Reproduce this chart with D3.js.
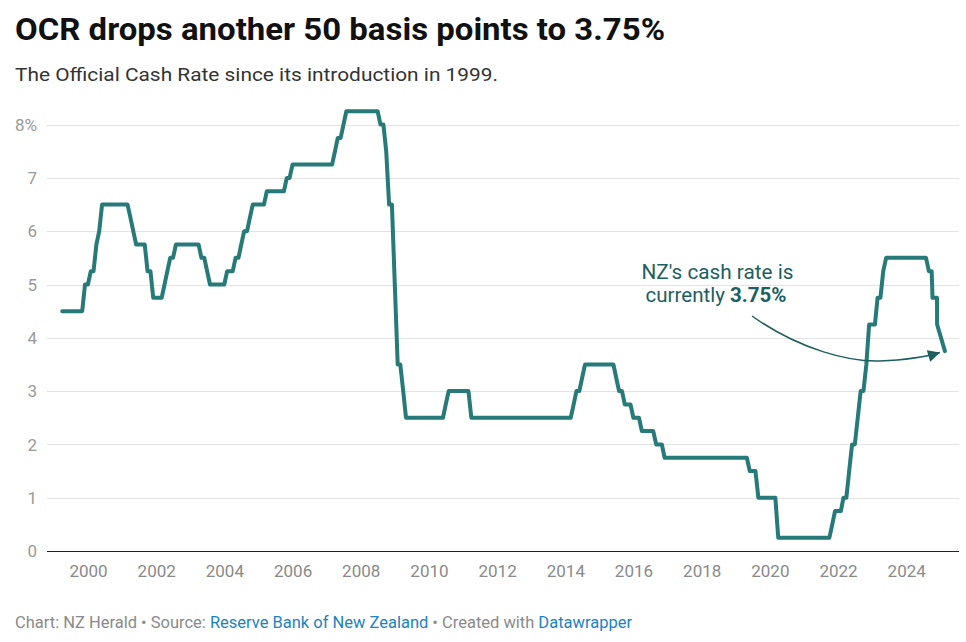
<!DOCTYPE html>
<html>
<head>
<meta charset="utf-8">
<script src="https://cdn.jsdelivr.net/npm/d3@7"></script>
<style>
  html, body { margin: 0; padding: 0; background: #fff; }
  svg { display: block; font-family: Roboto, "Noto Sans", sans-serif; }
</style>
</head>
<body>
<svg id="chart" width="966" height="642"></svg>
<script>
// ---- Data (month-end values, "YYYY-MM"; exact dates "YYYY-MM-DD") ----
const ocrDates = [
  "1999-03","1999-10","1999-11","1999-12","2000-01","2000-02","2000-03","2000-04",
  "2000-05","2001-02","2001-03","2001-04","2001-05","2001-08","2001-09","2001-10",
  "2001-11","2002-02","2002-03","2002-04","2002-05","2002-06","2002-07","2003-03",
  "2003-04","2003-05","2003-06","2003-07","2003-12","2004-01","2004-03","2004-04",
  "2004-05","2004-06","2004-07","2004-08","2004-09","2004-10","2005-02","2005-03",
  "2005-09","2005-10","2005-11","2005-12","2007-02","2007-03","2007-04","2007-05",
  "2007-06","2007-07","2008-06","2008-07","2008-08","2008-09","2008-10","2008-11",
  "2008-12","2009-01","2009-02","2009-03","2009-04","2010-05","2010-06","2010-07",
  "2011-02","2011-03","2014-02","2014-03","2014-04","2014-05","2014-06","2014-07",
  "2015-05","2015-06","2015-07","2015-08","2015-09","2015-11","2015-12","2016-02",
  "2016-03","2016-07","2016-08","2016-10","2016-11","2019-04","2019-05","2019-07",
  "2019-08","2020-02","2020-03","2021-09","2021-10","2021-11","2022-01","2022-02",
  "2022-03","2022-04","2022-05","2022-06","2022-07","2022-08","2022-09","2022-10",
  "2022-11","2023-01","2023-02","2023-03","2023-04","2023-05","2024-07","2024-08",
  "2024-09","2024-10-09","2024-11-26","2024-11-27","2025-02-19"
];
const ocrRates = [
  4.5,4.5,5.0,5.0,5.25,5.25,5.75,6.0,
  6.5,6.5,6.25,6.0,5.75,5.75,5.25,5.25,
  4.75,4.75,5.0,5.25,5.5,5.5,5.75,5.75,
  5.5,5.5,5.25,5.0,5.0,5.25,5.25,5.5,
  5.5,5.75,6.0,6.0,6.25,6.5,6.5,6.75,
  6.75,7.0,7.0,7.25,7.25,7.5,7.75,7.75,
  8.0,8.25,8.25,8.0,8.0,7.5,6.5,6.5,
  5.0,3.5,3.5,3.0,2.5,2.5,2.75,3.0,
  3.0,2.5,2.5,2.75,3.0,3.0,3.25,3.5,
  3.5,3.25,3.0,3.0,2.75,2.75,2.5,2.5,
  2.25,2.25,2.0,2.0,1.75,1.75,1.5,1.5,
  1.0,1.0,0.25,0.25,0.5,0.75,0.75,1.0,
  1.0,1.5,2.0,2.0,2.5,3.0,3.0,3.5,
  4.25,4.25,4.75,4.75,5.25,5.5,5.5,5.25,
  5.25,4.75,4.75,4.25,3.75
];
const yTicks = [0,1,2,3,4,5,6,7,8];
const xTickYears = [2000,2002,2004,2006,2008,2010,2012,2014,2016,2018,2020,2022,2024];

const titleText = "OCR drops another 50 basis points to 3.75%";
const subtitleText = "The Official Cash Rate since its introduction in 1999.";
const noteLine1 = "NZ's cash rate is";
const noteLine2a = "currently ";
const noteLine2b = "3.75%";

// ---- Helpers ----
function parseDate(s) {
  const p = s.split("-").map(Number);
  if (p.length === 2) return new Date(p[0], p[1], 0); // last day of month
  return new Date(p[0], p[1] - 1, p[2]);
}
const data = ocrDates.map((d, i) => ({ date: parseDate(d), value: ocrRates[i] }));

const svg = d3.select("#chart");
const plotLeft = 47, plotRight = 959;

const x = d3.scaleTime()
  .domain([new Date(2000, 0, 1), new Date(2024, 0, 1)])
  .range([88, 906.2]);
const y = d3.scaleLinear().domain([0, 8]).range([551, 124.6]);

// Title / subtitle
svg.append("text")
  .attr("x", 15).attr("y", 40)
  .attr("font-size", 31).attr("font-weight", 700).attr("fill", "#111")
  .attr("textLength", 650).attr("lengthAdjust", "spacingAndGlyphs")
  .text(titleText);
svg.append("text")
  .attr("x", 15).attr("y", 81)
  .attr("font-size", 19).attr("fill", "#333")
  .attr("textLength", 483).attr("lengthAdjust", "spacingAndGlyphs")
  .text(subtitleText);

// Gridlines
const grid = svg.append("g");
grid.selectAll("line").data(yTicks.filter(d => d > 0)).join("line")
  .attr("x1", plotLeft).attr("x2", plotRight)
  .attr("y1", d => Math.round(y(d)) + 0.5).attr("y2", d => Math.round(y(d)) + 0.5)
  .attr("stroke", "#e3e3e3").attr("stroke-width", 1);

// Y axis labels
const yAxis = d3.axisLeft(y).tickValues(yTicks).tickSize(0)
  .tickFormat(d => d === 8 ? "8%" : d3.format("d")(d));
svg.append("g").attr("transform", "translate(37,0)").call(yAxis)
  .call(g => g.select(".domain").remove())
  .call(g => g.selectAll("text").attr("x", 0).attr("dy", "0.34em")
    .attr("font-size", 17).attr("font-family", "Roboto, sans-serif").attr("fill", "#9a9a9a"));

// X axis labels
const xAxis = d3.axisBottom(x)
  .tickValues(xTickYears.map(yr => new Date(yr, 0, 1)))
  .tickSize(0).tickFormat(d3.timeFormat("%Y"));
svg.append("g").attr("transform", "translate(0,551)").call(xAxis)
  .call(g => g.select(".domain").remove())
  .call(g => g.selectAll("text").attr("y", 26).attr("dy", 0)
    .attr("font-size", 17).attr("font-family", "Roboto, sans-serif").attr("fill", "#8a8a8a"));

// Baseline
svg.append("line")
  .attr("x1", plotLeft).attr("x2", plotRight)
  .attr("y1", 551.5).attr("y2", 551.5)
  .attr("stroke", "#222").attr("stroke-width", 1);

// Line
const line = d3.line().x(d => x(d.date)).y(d => y(d.value));
svg.append("path").datum(data)
  .attr("d", line)
  .attr("fill", "none")
  .attr("stroke", "#267a78")
  .attr("stroke-width", 4)
  .attr("stroke-linejoin", "round")
  .attr("stroke-linecap", "round");

// Annotation
const noteColor = "#1c5f5f";
svg.append("text")
  .attr("x", 717.5).attr("y", 279).attr("text-anchor", "middle")
  .attr("font-size", 20).attr("fill", noteColor)
  .attr("textLength", 152).attr("lengthAdjust", "spacingAndGlyphs")
  .text(noteLine1);
const t2 = svg.append("text")
  .attr("x", 716).attr("y", 302).attr("text-anchor", "middle")
  .attr("font-size", 20).attr("fill", noteColor)
  .attr("textLength", 141).attr("lengthAdjust", "spacingAndGlyphs");
t2.append("tspan").text(noteLine2a);
t2.append("tspan").attr("font-weight", 700).text(noteLine2b);

svg.append("defs").append("marker")
  .attr("id", "arrowhead")
  .attr("viewBox", "0 0 10 10")
  .attr("refX", 10).attr("refY", 5)
  .attr("markerUnits", "userSpaceOnUse")
  .attr("markerWidth", 16).attr("markerHeight", 12)
  .attr("orient", "auto")
  .append("path").attr("d", "M0,0 L10,5 L0,10 Z").attr("fill", noteColor);

svg.append("path")
  .attr("d", "M752,316 C800,350 850,362 880,361 C905,360 925,357 940,352.5")
  .attr("fill", "none").attr("stroke", noteColor).attr("stroke-width", 1.5)
  .attr("marker-end", "url(#arrowhead)");

// Footer
const foot = svg.append("text")
  .attr("x", 15).attr("y", 628)
  .attr("font-size", 16).attr("fill", "#8a8a8a")
  .attr("textLength", 617).attr("lengthAdjust", "spacingAndGlyphs");
foot.append("tspan").text("Chart: NZ Herald • Source: ");
foot.append("tspan").attr("fill", "#1a82c6").text("Reserve Bank of New Zealand");
foot.append("tspan").text(" • Created with ");
foot.append("tspan").attr("fill", "#1a82c6").text("Datawrapper");
</script>
</body>
</html>
